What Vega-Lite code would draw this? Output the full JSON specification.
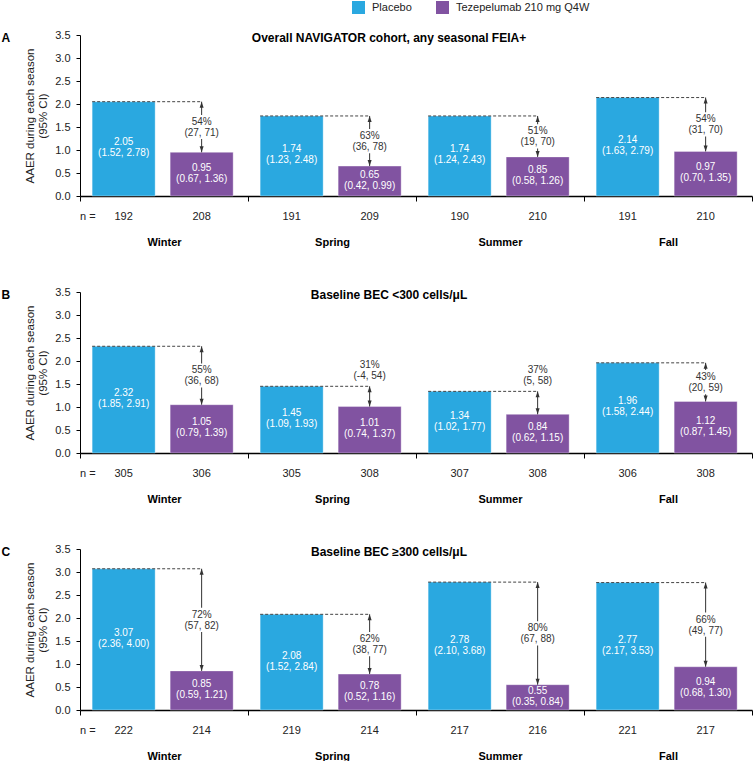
{
  "$schema": "https://vega.github.io/schema/vega-lite/v6.json",
  "padding": {"left": 1, "top": 1, "right": 0, "bottom": 0},
  "spacing": 39,
  "config": {"font": "Liberation Sans", "view": {"stroke": null}, "text": {"font": "Liberation Sans"}},
  "datasets": {
    "bars": [
      {"panel": "A", "season": "Winter", "group": "Placebo", "rate": 2.05, "ci": "(1.52, 2.78)", "n": 192},
      {"panel": "A", "season": "Winter", "group": "Tezepelumab 210 mg Q4W", "rate": 0.95, "ci": "(0.67, 1.36)", "n": 208},
      {"panel": "A", "season": "Spring", "group": "Placebo", "rate": 1.74, "ci": "(1.23, 2.48)", "n": 191},
      {"panel": "A", "season": "Spring", "group": "Tezepelumab 210 mg Q4W", "rate": 0.65, "ci": "(0.42, 0.99)", "n": 209},
      {"panel": "A", "season": "Summer", "group": "Placebo", "rate": 1.74, "ci": "(1.24, 2.43)", "n": 190},
      {"panel": "A", "season": "Summer", "group": "Tezepelumab 210 mg Q4W", "rate": 0.85, "ci": "(0.58, 1.26)", "n": 210},
      {"panel": "A", "season": "Fall", "group": "Placebo", "rate": 2.14, "ci": "(1.63, 2.79)", "n": 191},
      {"panel": "A", "season": "Fall", "group": "Tezepelumab 210 mg Q4W", "rate": 0.97, "ci": "(0.70, 1.35)", "n": 210},
      {"panel": "B", "season": "Winter", "group": "Placebo", "rate": 2.32, "ci": "(1.85, 2.91)", "n": 305},
      {"panel": "B", "season": "Winter", "group": "Tezepelumab 210 mg Q4W", "rate": 1.05, "ci": "(0.79, 1.39)", "n": 306},
      {"panel": "B", "season": "Spring", "group": "Placebo", "rate": 1.45, "ci": "(1.09, 1.93)", "n": 305},
      {"panel": "B", "season": "Spring", "group": "Tezepelumab 210 mg Q4W", "rate": 1.01, "ci": "(0.74, 1.37)", "n": 308},
      {"panel": "B", "season": "Summer", "group": "Placebo", "rate": 1.34, "ci": "(1.02, 1.77)", "n": 307},
      {"panel": "B", "season": "Summer", "group": "Tezepelumab 210 mg Q4W", "rate": 0.84, "ci": "(0.62, 1.15)", "n": 308},
      {"panel": "B", "season": "Fall", "group": "Placebo", "rate": 1.96, "ci": "(1.58, 2.44)", "n": 306},
      {"panel": "B", "season": "Fall", "group": "Tezepelumab 210 mg Q4W", "rate": 1.12, "ci": "(0.87, 1.45)", "n": 308},
      {"panel": "C", "season": "Winter", "group": "Placebo", "rate": 3.07, "ci": "(2.36, 4.00)", "n": 222},
      {"panel": "C", "season": "Winter", "group": "Tezepelumab 210 mg Q4W", "rate": 0.85, "ci": "(0.59, 1.21)", "n": 214},
      {"panel": "C", "season": "Spring", "group": "Placebo", "rate": 2.08, "ci": "(1.52, 2.84)", "n": 219},
      {"panel": "C", "season": "Spring", "group": "Tezepelumab 210 mg Q4W", "rate": 0.78, "ci": "(0.52, 1.16)", "n": 214},
      {"panel": "C", "season": "Summer", "group": "Placebo", "rate": 2.78, "ci": "(2.10, 3.68)", "n": 217},
      {"panel": "C", "season": "Summer", "group": "Tezepelumab 210 mg Q4W", "rate": 0.55, "ci": "(0.35, 0.84)", "n": 216},
      {"panel": "C", "season": "Fall", "group": "Placebo", "rate": 2.77, "ci": "(2.17, 3.53)", "n": 221},
      {"panel": "C", "season": "Fall", "group": "Tezepelumab 210 mg Q4W", "rate": 0.94, "ci": "(0.68, 1.30)", "n": 217}
    ],
    "red": [
      {"panel": "A", "season": "Winter", "placebo": 2.05, "teze": 0.95, "pct": "54%", "ci": "(27, 71)"},
      {"panel": "A", "season": "Spring", "placebo": 1.74, "teze": 0.65, "pct": "63%", "ci": "(36, 78)"},
      {"panel": "A", "season": "Summer", "placebo": 1.74, "teze": 0.85, "pct": "51%", "ci": "(19, 70)"},
      {"panel": "A", "season": "Fall", "placebo": 2.14, "teze": 0.97, "pct": "54%", "ci": "(31, 70)"},
      {"panel": "B", "season": "Winter", "placebo": 2.32, "teze": 1.05, "pct": "55%", "ci": "(36, 68)"},
      {"panel": "B", "season": "Spring", "placebo": 1.45, "teze": 1.01, "pct": "31%", "ci": "(-4, 54)"},
      {"panel": "B", "season": "Summer", "placebo": 1.34, "teze": 0.84, "pct": "37%", "ci": "(5, 58)"},
      {"panel": "B", "season": "Fall", "placebo": 1.96, "teze": 1.12, "pct": "43%", "ci": "(20, 59)"},
      {"panel": "C", "season": "Winter", "placebo": 3.07, "teze": 0.85, "pct": "72%", "ci": "(57, 82)"},
      {"panel": "C", "season": "Spring", "placebo": 2.08, "teze": 0.78, "pct": "62%", "ci": "(38, 77)"},
      {"panel": "C", "season": "Summer", "placebo": 2.78, "teze": 0.55, "pct": "80%", "ci": "(67, 88)"},
      {"panel": "C", "season": "Fall", "placebo": 2.77, "teze": 0.94, "pct": "66%", "ci": "(49, 77)"}
    ]
  },
  "vconcat": [
    {
      "width": 672, "height": 161,
      "title": {"text": "Overall NAVIGATOR cohort, any seasonal FEIA+", "anchor": "middle", "frame": "group", "offset": -16, "dx": -27, "fontSize": 12, "fontWeight": "bold", "color": "#000"},
      "resolve": {"axis": {"y": "independent"}},
      "layer": [
        {"data": {"name": "bars"}, "transform": [{"filter": "datum.panel == 'A'"}],
         "mark": {"type": "bar", "stroke": "#ffffff", "strokeWidth": 1, "strokeOpacity": 0.35},
         "encoding": {
           "x": {"field": "season", "type": "nominal", "sort": ["Winter", "Spring", "Summer", "Fall"], "scale": {"paddingInner": 0, "paddingOuter": 0},
                 "axis": {"title": null, "labelAngle": 0, "labelFontSize": 11, "labelFontWeight": "bold", "labelColor": "#000", "labelPadding": 35, "tickBand": "extent", "tickSize": 5, "tickColor": "#000", "domainColor": "#000", "domainWidth": 1.5}},
           "xOffset": {"field": "group", "type": "nominal", "sort": ["Placebo", "Tezepelumab 210 mg Q4W"], "scale": {"paddingInner": 0.1923, "paddingOuter": 0.173, "align": 0.45}},
           "y": {"field": "rate", "type": "quantitative", "scale": {"domain": [0, 3.5], "nice": false},
                 "axis": {"title": ["AAER during each season", "(95% CI)"], "titleFontSize": 11.5, "titleFontWeight": "normal", "titleColor": "#222", "titlePadding": 6, "values": [0, 0.5, 1, 1.5, 2, 2.5, 3, 3.5], "format": ".1f", "labelFontSize": 11, "labelColor": "#222", "labelPadding": 6, "tickSize": 4, "tickColor": "#000", "domainColor": "#000", "grid": false}},
           "color": {"field": "group", "type": "nominal", "scale": {"domain": ["Placebo", "Tezepelumab 210 mg Q4W"], "range": ["#2AA8E0", "#8153A1"]},
                     "legend": {"orient": "none", "legendX": 272, "legendY": -34, "direction": "horizontal", "title": null, "symbolType": "square", "symbolSize": 169, "symbolStrokeWidth": 0, "labelFontSize": 11, "labelColor": "#222", "labelOffset": 7, "columnPadding": 24}}
         }},
        {"data": {"name": "bars"}, "transform": [{"filter": "datum.panel == 'A'"}, {"calculate": "datum.rate / 2", "as": "mid"}, {"calculate": "format(datum.rate, '.2f') + '\\n' + datum.ci", "as": "label"}],
         "mark": {"type": "text", "color": "#ffffff", "fontSize": 10, "lineBreak": "\n", "lineHeight": 11, "baseline": "middle", "dy": -6.5},
         "encoding": {
           "x": {"field": "season", "type": "nominal", "sort": ["Winter", "Spring", "Summer", "Fall"]},
           "xOffset": {"field": "group", "type": "nominal", "sort": ["Placebo", "Tezepelumab 210 mg Q4W"]},
           "y": {"field": "mid", "type": "quantitative", "axis": null},
           "text": {"field": "label"}
         }},
        {"data": {"name": "bars"}, "transform": [{"filter": "datum.panel == 'A'"}],
         "mark": {"type": "text", "fontSize": 11, "color": "#222", "dy": 21, "baseline": "middle"},
         "encoding": {
           "x": {"field": "season", "type": "nominal", "sort": ["Winter", "Spring", "Summer", "Fall"]},
           "xOffset": {"field": "group", "type": "nominal", "sort": ["Placebo", "Tezepelumab 210 mg Q4W"]},
           "y": {"datum": 0, "type": "quantitative", "axis": null},
           "text": {"field": "n"}
         }},
        {"data": {"name": "bars"}, "transform": [{"filter": "datum.panel == 'A' && datum.season == 'Winter' && datum.group == 'Placebo'"}],
         "mark": {"type": "text", "fontSize": 11, "color": "#222", "dy": 21, "baseline": "middle", "align": "left"},
         "encoding": {
           "x": {"field": "season", "type": "nominal", "sort": ["Winter", "Spring", "Summer", "Fall"], "bandPosition": 0},
           "y": {"datum": 0, "type": "quantitative", "axis": null},
           "text": {"value": "n ="}
         }},
        {"data": {"name": "red"}, "transform": [{"filter": "datum.panel == 'A'"}],
         "mark": {"type": "rule", "strokeDash": [3, 2], "color": "#444", "strokeWidth": 1},
         "encoding": {
           "x": {"field": "season", "type": "nominal", "sort": ["Winter", "Spring", "Summer", "Fall"], "bandPosition": 0.0723},
           "x2": {"field": "season", "bandPosition": 0.724},
           "y": {"field": "placebo", "type": "quantitative",
                 "axis": {"orient": "left", "domain": false, "ticks": false, "labels": false, "grid": false, "title": "A", "titleAngle": 0, "titleAnchor": "end", "titleBaseline": "middle", "titleAlign": "left", "titleX": -79, "titleY": 2, "titleFontSize": 12, "titleFontWeight": "bold", "titleColor": "#000"}}
         }},
        {"data": {"name": "red"}, "transform": [{"filter": "datum.panel == 'A'"}],
         "mark": {"type": "rule", "color": "#333", "strokeWidth": 1},
         "encoding": {
           "x": {"field": "season", "type": "nominal", "sort": ["Winter", "Spring", "Summer", "Fall"], "bandPosition": 0.724},
           "y": {"field": "placebo", "type": "quantitative", "axis": null},
           "y2": {"field": "teze"}
         }},
        {"data": {"name": "red"}, "transform": [{"filter": "datum.panel == 'A'"}],
         "mark": {"type": "point", "filled": true, "color": "#333", "opacity": 1, "size": 25, "shape": "M0,0L-0.8,2.4L0.8,2.4Z"},
         "encoding": {
           "x": {"field": "season", "type": "nominal", "sort": ["Winter", "Spring", "Summer", "Fall"], "bandPosition": 0.724},
           "y": {"field": "placebo", "type": "quantitative", "axis": null}
         }},
        {"data": {"name": "red"}, "transform": [{"filter": "datum.panel == 'A'"}],
         "mark": {"type": "point", "filled": true, "color": "#333", "opacity": 1, "size": 25, "shape": "M0,0L-0.8,-2.4L0.8,-2.4Z"},
         "encoding": {
           "x": {"field": "season", "type": "nominal", "sort": ["Winter", "Spring", "Summer", "Fall"], "bandPosition": 0.724},
           "y": {"field": "teze", "type": "quantitative", "axis": null}
         }},
        {"data": {"name": "red"}, "transform": [{"filter": "datum.panel == 'A'"}, {"calculate": "datum.placebo - datum.teze < 0.6 ? datum.placebo + 0.35 : (datum.placebo + datum.teze) / 2", "as": "ly"}],
         "mark": {"type": "point", "filled": true, "color": "#ffffff", "opacity": 1, "strokeWidth": 0, "size": 1936, "shape": "M-1,-0.55L1,-0.55L1,0.55L-1,0.55Z"},
         "encoding": {
           "x": {"field": "season", "type": "nominal", "sort": ["Winter", "Spring", "Summer", "Fall"], "bandPosition": 0.724},
           "y": {"field": "ly", "type": "quantitative", "axis": null}
         }},
        {"data": {"name": "red"}, "transform": [{"filter": "datum.panel == 'A'"}, {"calculate": "datum.placebo - datum.teze < 0.6 ? datum.placebo + 0.35 : (datum.placebo + datum.teze) / 2", "as": "ly"}, {"calculate": "datum.pct + '\\n' + datum.ci", "as": "label"}],
         "mark": {"type": "text", "color": "#333", "fontSize": 10, "lineBreak": "\n", "lineHeight": 11, "baseline": "middle", "dy": -5},
         "encoding": {
           "x": {"field": "season", "type": "nominal", "sort": ["Winter", "Spring", "Summer", "Fall"], "bandPosition": 0.724},
           "y": {"field": "ly", "type": "quantitative", "axis": null},
           "text": {"field": "label"}
         }}
      ]
    },
    {
      "width": 672, "height": 161,
      "title": {"text": "Baseline BEC <300 cells/μL", "anchor": "middle", "frame": "group", "offset": -16, "dx": -27, "fontSize": 12, "fontWeight": "bold", "color": "#000"},
      "resolve": {"axis": {"y": "independent"}},
      "layer": [
        {"data": {"name": "bars"}, "transform": [{"filter": "datum.panel == 'B'"}],
         "mark": {"type": "bar", "stroke": "#ffffff", "strokeWidth": 1, "strokeOpacity": 0.35},
         "encoding": {
           "x": {"field": "season", "type": "nominal", "sort": ["Winter", "Spring", "Summer", "Fall"], "scale": {"paddingInner": 0, "paddingOuter": 0},
                 "axis": {"title": null, "labelAngle": 0, "labelFontSize": 11, "labelFontWeight": "bold", "labelColor": "#000", "labelPadding": 35, "tickBand": "extent", "tickSize": 5, "tickColor": "#000", "domainColor": "#000", "domainWidth": 1.5}},
           "xOffset": {"field": "group", "type": "nominal", "sort": ["Placebo", "Tezepelumab 210 mg Q4W"], "scale": {"paddingInner": 0.1923, "paddingOuter": 0.173, "align": 0.45}},
           "y": {"field": "rate", "type": "quantitative", "scale": {"domain": [0, 3.5], "nice": false},
                 "axis": {"title": ["AAER during each season", "(95% CI)"], "titleFontSize": 11.5, "titleFontWeight": "normal", "titleColor": "#222", "titlePadding": 6, "values": [0, 0.5, 1, 1.5, 2, 2.5, 3, 3.5], "format": ".1f", "labelFontSize": 11, "labelColor": "#222", "labelPadding": 6, "tickSize": 4, "tickColor": "#000", "domainColor": "#000", "grid": false}},
           "color": {"field": "group", "type": "nominal", "scale": {"domain": ["Placebo", "Tezepelumab 210 mg Q4W"], "range": ["#2AA8E0", "#8153A1"]},
                     "legend": {"orient": "none", "legendX": 272, "legendY": -34, "direction": "horizontal", "title": null, "symbolType": "square", "symbolSize": 169, "symbolStrokeWidth": 0, "labelFontSize": 11, "labelColor": "#222", "labelOffset": 7, "columnPadding": 24}}
         }},
        {"data": {"name": "bars"}, "transform": [{"filter": "datum.panel == 'B'"}, {"calculate": "datum.rate / 2", "as": "mid"}, {"calculate": "format(datum.rate, '.2f') + '\\n' + datum.ci", "as": "label"}],
         "mark": {"type": "text", "color": "#ffffff", "fontSize": 10, "lineBreak": "\n", "lineHeight": 11, "baseline": "middle", "dy": -6.5},
         "encoding": {
           "x": {"field": "season", "type": "nominal", "sort": ["Winter", "Spring", "Summer", "Fall"]},
           "xOffset": {"field": "group", "type": "nominal", "sort": ["Placebo", "Tezepelumab 210 mg Q4W"]},
           "y": {"field": "mid", "type": "quantitative", "axis": null},
           "text": {"field": "label"}
         }},
        {"data": {"name": "bars"}, "transform": [{"filter": "datum.panel == 'B'"}],
         "mark": {"type": "text", "fontSize": 11, "color": "#222", "dy": 21, "baseline": "middle"},
         "encoding": {
           "x": {"field": "season", "type": "nominal", "sort": ["Winter", "Spring", "Summer", "Fall"]},
           "xOffset": {"field": "group", "type": "nominal", "sort": ["Placebo", "Tezepelumab 210 mg Q4W"]},
           "y": {"datum": 0, "type": "quantitative", "axis": null},
           "text": {"field": "n"}
         }},
        {"data": {"name": "bars"}, "transform": [{"filter": "datum.panel == 'B' && datum.season == 'Winter' && datum.group == 'Placebo'"}],
         "mark": {"type": "text", "fontSize": 11, "color": "#222", "dy": 21, "baseline": "middle", "align": "left"},
         "encoding": {
           "x": {"field": "season", "type": "nominal", "sort": ["Winter", "Spring", "Summer", "Fall"], "bandPosition": 0},
           "y": {"datum": 0, "type": "quantitative", "axis": null},
           "text": {"value": "n ="}
         }},
        {"data": {"name": "red"}, "transform": [{"filter": "datum.panel == 'B'"}],
         "mark": {"type": "rule", "strokeDash": [3, 2], "color": "#444", "strokeWidth": 1},
         "encoding": {
           "x": {"field": "season", "type": "nominal", "sort": ["Winter", "Spring", "Summer", "Fall"], "bandPosition": 0.0723},
           "x2": {"field": "season", "bandPosition": 0.724},
           "y": {"field": "placebo", "type": "quantitative",
                 "axis": {"orient": "left", "domain": false, "ticks": false, "labels": false, "grid": false, "title": "B", "titleAngle": 0, "titleAnchor": "end", "titleBaseline": "middle", "titleAlign": "left", "titleX": -79, "titleY": 2, "titleFontSize": 12, "titleFontWeight": "bold", "titleColor": "#000"}}
         }},
        {"data": {"name": "red"}, "transform": [{"filter": "datum.panel == 'B'"}],
         "mark": {"type": "rule", "color": "#333", "strokeWidth": 1},
         "encoding": {
           "x": {"field": "season", "type": "nominal", "sort": ["Winter", "Spring", "Summer", "Fall"], "bandPosition": 0.724},
           "y": {"field": "placebo", "type": "quantitative", "axis": null},
           "y2": {"field": "teze"}
         }},
        {"data": {"name": "red"}, "transform": [{"filter": "datum.panel == 'B'"}],
         "mark": {"type": "point", "filled": true, "color": "#333", "opacity": 1, "size": 25, "shape": "M0,0L-0.8,2.4L0.8,2.4Z"},
         "encoding": {
           "x": {"field": "season", "type": "nominal", "sort": ["Winter", "Spring", "Summer", "Fall"], "bandPosition": 0.724},
           "y": {"field": "placebo", "type": "quantitative", "axis": null}
         }},
        {"data": {"name": "red"}, "transform": [{"filter": "datum.panel == 'B'"}],
         "mark": {"type": "point", "filled": true, "color": "#333", "opacity": 1, "size": 25, "shape": "M0,0L-0.8,-2.4L0.8,-2.4Z"},
         "encoding": {
           "x": {"field": "season", "type": "nominal", "sort": ["Winter", "Spring", "Summer", "Fall"], "bandPosition": 0.724},
           "y": {"field": "teze", "type": "quantitative", "axis": null}
         }},
        {"data": {"name": "red"}, "transform": [{"filter": "datum.panel == 'B'"}, {"calculate": "datum.placebo - datum.teze < 0.6 ? datum.placebo + 0.35 : (datum.placebo + datum.teze) / 2", "as": "ly"}],
         "mark": {"type": "point", "filled": true, "color": "#ffffff", "opacity": 1, "strokeWidth": 0, "size": 1936, "shape": "M-1,-0.55L1,-0.55L1,0.55L-1,0.55Z"},
         "encoding": {
           "x": {"field": "season", "type": "nominal", "sort": ["Winter", "Spring", "Summer", "Fall"], "bandPosition": 0.724},
           "y": {"field": "ly", "type": "quantitative", "axis": null}
         }},
        {"data": {"name": "red"}, "transform": [{"filter": "datum.panel == 'B'"}, {"calculate": "datum.placebo - datum.teze < 0.6 ? datum.placebo + 0.35 : (datum.placebo + datum.teze) / 2", "as": "ly"}, {"calculate": "datum.pct + '\\n' + datum.ci", "as": "label"}],
         "mark": {"type": "text", "color": "#333", "fontSize": 10, "lineBreak": "\n", "lineHeight": 11, "baseline": "middle", "dy": -5},
         "encoding": {
           "x": {"field": "season", "type": "nominal", "sort": ["Winter", "Spring", "Summer", "Fall"], "bandPosition": 0.724},
           "y": {"field": "ly", "type": "quantitative", "axis": null},
           "text": {"field": "label"}
         }}
      ]
    },
    {
      "width": 672, "height": 161,
      "title": {"text": "Baseline BEC ≥300 cells/μL", "anchor": "middle", "frame": "group", "offset": -16, "dx": -27, "fontSize": 12, "fontWeight": "bold", "color": "#000"},
      "resolve": {"axis": {"y": "independent"}},
      "layer": [
        {"data": {"name": "bars"}, "transform": [{"filter": "datum.panel == 'C'"}],
         "mark": {"type": "bar", "stroke": "#ffffff", "strokeWidth": 1, "strokeOpacity": 0.35},
         "encoding": {
           "x": {"field": "season", "type": "nominal", "sort": ["Winter", "Spring", "Summer", "Fall"], "scale": {"paddingInner": 0, "paddingOuter": 0},
                 "axis": {"title": null, "labelAngle": 0, "labelFontSize": 11, "labelFontWeight": "bold", "labelColor": "#000", "labelPadding": 35, "tickBand": "extent", "tickSize": 5, "tickColor": "#000", "domainColor": "#000", "domainWidth": 1.5}},
           "xOffset": {"field": "group", "type": "nominal", "sort": ["Placebo", "Tezepelumab 210 mg Q4W"], "scale": {"paddingInner": 0.1923, "paddingOuter": 0.173, "align": 0.45}},
           "y": {"field": "rate", "type": "quantitative", "scale": {"domain": [0, 3.5], "nice": false},
                 "axis": {"title": ["AAER during each season", "(95% CI)"], "titleFontSize": 11.5, "titleFontWeight": "normal", "titleColor": "#222", "titlePadding": 6, "values": [0, 0.5, 1, 1.5, 2, 2.5, 3, 3.5], "format": ".1f", "labelFontSize": 11, "labelColor": "#222", "labelPadding": 6, "tickSize": 4, "tickColor": "#000", "domainColor": "#000", "grid": false}},
           "color": {"field": "group", "type": "nominal", "scale": {"domain": ["Placebo", "Tezepelumab 210 mg Q4W"], "range": ["#2AA8E0", "#8153A1"]},
                     "legend": {"orient": "none", "legendX": 272, "legendY": -34, "direction": "horizontal", "title": null, "symbolType": "square", "symbolSize": 169, "symbolStrokeWidth": 0, "labelFontSize": 11, "labelColor": "#222", "labelOffset": 7, "columnPadding": 24}}
         }},
        {"data": {"name": "bars"}, "transform": [{"filter": "datum.panel == 'C'"}, {"calculate": "datum.rate / 2", "as": "mid"}, {"calculate": "format(datum.rate, '.2f') + '\\n' + datum.ci", "as": "label"}],
         "mark": {"type": "text", "color": "#ffffff", "fontSize": 10, "lineBreak": "\n", "lineHeight": 11, "baseline": "middle", "dy": -6.5},
         "encoding": {
           "x": {"field": "season", "type": "nominal", "sort": ["Winter", "Spring", "Summer", "Fall"]},
           "xOffset": {"field": "group", "type": "nominal", "sort": ["Placebo", "Tezepelumab 210 mg Q4W"]},
           "y": {"field": "mid", "type": "quantitative", "axis": null},
           "text": {"field": "label"}
         }},
        {"data": {"name": "bars"}, "transform": [{"filter": "datum.panel == 'C'"}],
         "mark": {"type": "text", "fontSize": 11, "color": "#222", "dy": 21, "baseline": "middle"},
         "encoding": {
           "x": {"field": "season", "type": "nominal", "sort": ["Winter", "Spring", "Summer", "Fall"]},
           "xOffset": {"field": "group", "type": "nominal", "sort": ["Placebo", "Tezepelumab 210 mg Q4W"]},
           "y": {"datum": 0, "type": "quantitative", "axis": null},
           "text": {"field": "n"}
         }},
        {"data": {"name": "bars"}, "transform": [{"filter": "datum.panel == 'C' && datum.season == 'Winter' && datum.group == 'Placebo'"}],
         "mark": {"type": "text", "fontSize": 11, "color": "#222", "dy": 21, "baseline": "middle", "align": "left"},
         "encoding": {
           "x": {"field": "season", "type": "nominal", "sort": ["Winter", "Spring", "Summer", "Fall"], "bandPosition": 0},
           "y": {"datum": 0, "type": "quantitative", "axis": null},
           "text": {"value": "n ="}
         }},
        {"data": {"name": "red"}, "transform": [{"filter": "datum.panel == 'C'"}],
         "mark": {"type": "rule", "strokeDash": [3, 2], "color": "#444", "strokeWidth": 1},
         "encoding": {
           "x": {"field": "season", "type": "nominal", "sort": ["Winter", "Spring", "Summer", "Fall"], "bandPosition": 0.0723},
           "x2": {"field": "season", "bandPosition": 0.724},
           "y": {"field": "placebo", "type": "quantitative",
                 "axis": {"orient": "left", "domain": false, "ticks": false, "labels": false, "grid": false, "title": "C", "titleAngle": 0, "titleAnchor": "end", "titleBaseline": "middle", "titleAlign": "left", "titleX": -79, "titleY": 2, "titleFontSize": 12, "titleFontWeight": "bold", "titleColor": "#000"}}
         }},
        {"data": {"name": "red"}, "transform": [{"filter": "datum.panel == 'C'"}],
         "mark": {"type": "rule", "color": "#333", "strokeWidth": 1},
         "encoding": {
           "x": {"field": "season", "type": "nominal", "sort": ["Winter", "Spring", "Summer", "Fall"], "bandPosition": 0.724},
           "y": {"field": "placebo", "type": "quantitative", "axis": null},
           "y2": {"field": "teze"}
         }},
        {"data": {"name": "red"}, "transform": [{"filter": "datum.panel == 'C'"}],
         "mark": {"type": "point", "filled": true, "color": "#333", "opacity": 1, "size": 25, "shape": "M0,0L-0.8,2.4L0.8,2.4Z"},
         "encoding": {
           "x": {"field": "season", "type": "nominal", "sort": ["Winter", "Spring", "Summer", "Fall"], "bandPosition": 0.724},
           "y": {"field": "placebo", "type": "quantitative", "axis": null}
         }},
        {"data": {"name": "red"}, "transform": [{"filter": "datum.panel == 'C'"}],
         "mark": {"type": "point", "filled": true, "color": "#333", "opacity": 1, "size": 25, "shape": "M0,0L-0.8,-2.4L0.8,-2.4Z"},
         "encoding": {
           "x": {"field": "season", "type": "nominal", "sort": ["Winter", "Spring", "Summer", "Fall"], "bandPosition": 0.724},
           "y": {"field": "teze", "type": "quantitative", "axis": null}
         }},
        {"data": {"name": "red"}, "transform": [{"filter": "datum.panel == 'C'"}, {"calculate": "datum.placebo - datum.teze < 0.6 ? datum.placebo + 0.35 : (datum.placebo + datum.teze) / 2", "as": "ly"}],
         "mark": {"type": "point", "filled": true, "color": "#ffffff", "opacity": 1, "strokeWidth": 0, "size": 1936, "shape": "M-1,-0.55L1,-0.55L1,0.55L-1,0.55Z"},
         "encoding": {
           "x": {"field": "season", "type": "nominal", "sort": ["Winter", "Spring", "Summer", "Fall"], "bandPosition": 0.724},
           "y": {"field": "ly", "type": "quantitative", "axis": null}
         }},
        {"data": {"name": "red"}, "transform": [{"filter": "datum.panel == 'C'"}, {"calculate": "datum.placebo - datum.teze < 0.6 ? datum.placebo + 0.35 : (datum.placebo + datum.teze) / 2", "as": "ly"}, {"calculate": "datum.pct + '\\n' + datum.ci", "as": "label"}],
         "mark": {"type": "text", "color": "#333", "fontSize": 10, "lineBreak": "\n", "lineHeight": 11, "baseline": "middle", "dy": -5},
         "encoding": {
           "x": {"field": "season", "type": "nominal", "sort": ["Winter", "Spring", "Summer", "Fall"], "bandPosition": 0.724},
           "y": {"field": "ly", "type": "quantitative", "axis": null},
           "text": {"field": "label"}
         }}
      ]
    }
  ]
}
